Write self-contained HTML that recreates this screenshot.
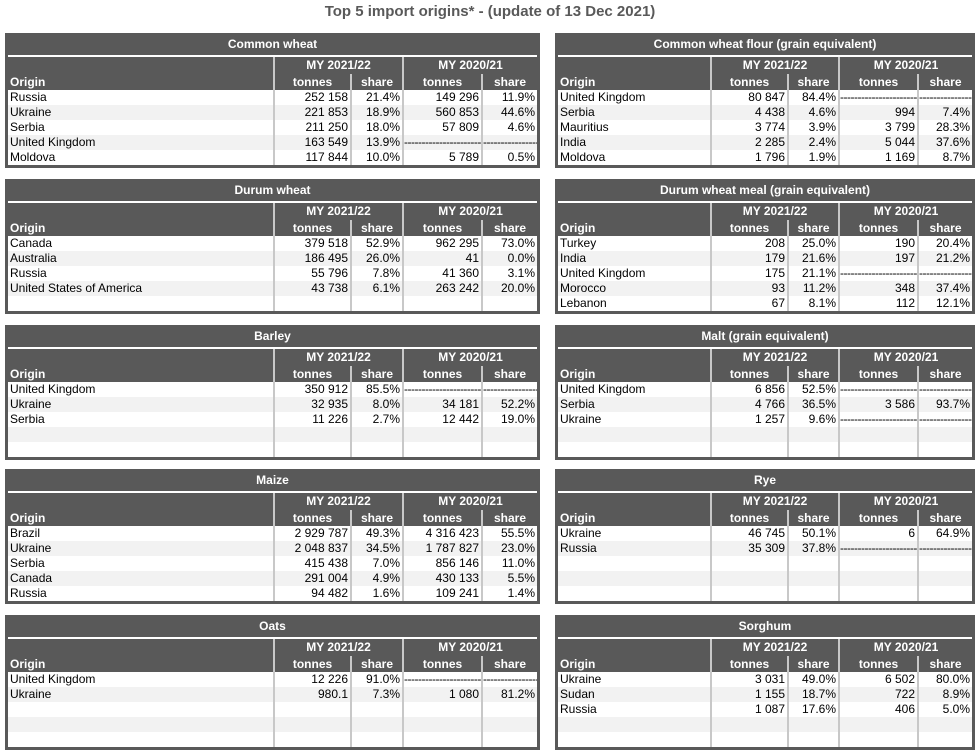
<!DOCTYPE html>
<html><head><meta charset="utf-8"><style>
body{margin:0;width:980px;height:751px;background:#fff;font-family:"Liberation Sans",Arial,sans-serif;position:relative;overflow:hidden}
.h{position:absolute;left:0;width:980px;top:3px;text-align:center;font-weight:bold;font-size:15px;color:#595959}
.p{position:absolute;background:#595959;height:135px;box-sizing:border-box;padding:0 3px}
.ti{height:22px;line-height:23px;color:#fff;font-weight:bold;text-align:center;font-size:12px}
.wl{height:2px;background:#fff}
table{border-spacing:0;table-layout:fixed;font-size:12px;color:#000}
th{color:#fff;font-weight:bold;padding:0;text-align:center;line-height:15px}
th.o{text-align:left;vertical-align:bottom;padding-left:2px}
tr.a th{height:17px}
tr.b th{height:16px}
td{height:15px;padding:0 2px;line-height:15px;background:#fff;text-align:right;white-space:nowrap;overflow:hidden}
td.o{text-align:left}
tr.g td{background:#f2f2f2}
.s{border-left:2px solid #c8c8c8}
.d{text-align:left;padding:0;letter-spacing:-0.5px}
</style></head><body>
<div class="h">Top 5 import origins* - (update of 13 Dec 2021)</div>

<div class="p" style="left:5px;top:33px;width:535px">
<div class="ti">Common wheat</div><div class="wl"></div>
<table style="width:529px"><colgroup><col style="width:265px"><col style="width:77px"><col style="width:52px"><col style="width:79px"><col></colgroup>
<tr class="a"><th class="o" rowspan="2">Origin</th><th class="s" colspan="2">MY 2021/22</th><th class="s" colspan="2">MY 2020/21</th></tr>
<tr class="b"><th class="s">tonnes</th><th class="s">share</th><th class="s">tonnes</th><th class="s">share</th></tr>
<tr><td class="o">Russia</td><td class="s">252 158</td><td class="s">21.4%</td><td class="s">149 296</td><td class="s">11.9%</td></tr>
<tr class="g"><td class="o">Ukraine</td><td class="s">221 853</td><td class="s">18.9%</td><td class="s">560 853</td><td class="s">44.6%</td></tr>
<tr><td class="o">Serbia</td><td class="s">211 250</td><td class="s">18.0%</td><td class="s">57 809</td><td class="s">4.6%</td></tr>
<tr class="g"><td class="o">United Kingdom</td><td class="s">163 549</td><td class="s">13.9%</td><td class="s d">-------------------------</td><td class="s d">----------------</td></tr>
<tr><td class="o">Moldova</td><td class="s">117 844</td><td class="s">10.0%</td><td class="s">5 789</td><td class="s">0.5%</td></tr>
</table></div>

<div class="p" style="left:5px;top:179px;width:535px">
<div class="ti">Durum wheat</div><div class="wl"></div>
<table style="width:529px"><colgroup><col style="width:265px"><col style="width:77px"><col style="width:52px"><col style="width:79px"><col></colgroup>
<tr class="a"><th class="o" rowspan="2">Origin</th><th class="s" colspan="2">MY 2021/22</th><th class="s" colspan="2">MY 2020/21</th></tr>
<tr class="b"><th class="s">tonnes</th><th class="s">share</th><th class="s">tonnes</th><th class="s">share</th></tr>
<tr><td class="o">Canada</td><td class="s">379 518</td><td class="s">52.9%</td><td class="s">962 295</td><td class="s">73.0%</td></tr>
<tr class="g"><td class="o">Australia</td><td class="s">186 495</td><td class="s">26.0%</td><td class="s">41</td><td class="s">0.0%</td></tr>
<tr><td class="o">Russia</td><td class="s">55 796</td><td class="s">7.8%</td><td class="s">41 360</td><td class="s">3.1%</td></tr>
<tr class="g"><td class="o">United States of America</td><td class="s">43 738</td><td class="s">6.1%</td><td class="s">263 242</td><td class="s">20.0%</td></tr>
<tr><td class="o"></td><td class="s"></td><td class="s"></td><td class="s"></td><td class="s"></td></tr>
</table></div>

<div class="p" style="left:5px;top:325px;width:535px">
<div class="ti">Barley</div><div class="wl"></div>
<table style="width:529px"><colgroup><col style="width:265px"><col style="width:77px"><col style="width:52px"><col style="width:79px"><col></colgroup>
<tr class="a"><th class="o" rowspan="2">Origin</th><th class="s" colspan="2">MY 2021/22</th><th class="s" colspan="2">MY 2020/21</th></tr>
<tr class="b"><th class="s">tonnes</th><th class="s">share</th><th class="s">tonnes</th><th class="s">share</th></tr>
<tr><td class="o">United Kingdom</td><td class="s">350 912</td><td class="s">85.5%</td><td class="s d">-------------------------</td><td class="s d">----------------</td></tr>
<tr class="g"><td class="o">Ukraine</td><td class="s">32 935</td><td class="s">8.0%</td><td class="s">34 181</td><td class="s">52.2%</td></tr>
<tr><td class="o">Serbia</td><td class="s">11 226</td><td class="s">2.7%</td><td class="s">12 442</td><td class="s">19.0%</td></tr>
<tr class="g"><td class="o"></td><td class="s"></td><td class="s"></td><td class="s"></td><td class="s"></td></tr>
<tr><td class="o"></td><td class="s"></td><td class="s"></td><td class="s"></td><td class="s"></td></tr>
</table></div>

<div class="p" style="left:5px;top:469px;width:535px">
<div class="ti">Maize</div><div class="wl"></div>
<table style="width:529px"><colgroup><col style="width:265px"><col style="width:77px"><col style="width:52px"><col style="width:79px"><col></colgroup>
<tr class="a"><th class="o" rowspan="2">Origin</th><th class="s" colspan="2">MY 2021/22</th><th class="s" colspan="2">MY 2020/21</th></tr>
<tr class="b"><th class="s">tonnes</th><th class="s">share</th><th class="s">tonnes</th><th class="s">share</th></tr>
<tr><td class="o">Brazil</td><td class="s">2 929 787</td><td class="s">49.3%</td><td class="s">4 316 423</td><td class="s">55.5%</td></tr>
<tr class="g"><td class="o">Ukraine</td><td class="s">2 048 837</td><td class="s">34.5%</td><td class="s">1 787 827</td><td class="s">23.0%</td></tr>
<tr><td class="o">Serbia</td><td class="s">415 438</td><td class="s">7.0%</td><td class="s">856 146</td><td class="s">11.0%</td></tr>
<tr class="g"><td class="o">Canada</td><td class="s">291 004</td><td class="s">4.9%</td><td class="s">430 133</td><td class="s">5.5%</td></tr>
<tr><td class="o">Russia</td><td class="s">94 482</td><td class="s">1.6%</td><td class="s">109 241</td><td class="s">1.4%</td></tr>
</table></div>

<div class="p" style="left:5px;top:615px;width:535px">
<div class="ti">Oats</div><div class="wl"></div>
<table style="width:529px"><colgroup><col style="width:265px"><col style="width:77px"><col style="width:52px"><col style="width:79px"><col></colgroup>
<tr class="a"><th class="o" rowspan="2">Origin</th><th class="s" colspan="2">MY 2021/22</th><th class="s" colspan="2">MY 2020/21</th></tr>
<tr class="b"><th class="s">tonnes</th><th class="s">share</th><th class="s">tonnes</th><th class="s">share</th></tr>
<tr><td class="o">United Kingdom</td><td class="s">12 226</td><td class="s">91.0%</td><td class="s d">-------------------------</td><td class="s d">----------------</td></tr>
<tr class="g"><td class="o">Ukraine</td><td class="s">980.1</td><td class="s">7.3%</td><td class="s">1 080</td><td class="s">81.2%</td></tr>
<tr><td class="o"></td><td class="s"></td><td class="s"></td><td class="s"></td><td class="s"></td></tr>
<tr class="g"><td class="o"></td><td class="s"></td><td class="s"></td><td class="s"></td><td class="s"></td></tr>
<tr><td class="o"></td><td class="s"></td><td class="s"></td><td class="s"></td><td class="s"></td></tr>
</table></div>

<div class="p" style="left:555px;top:33px;width:420px">
<div class="ti">Common wheat flour (grain equivalent)</div><div class="wl"></div>
<table style="width:414px"><colgroup><col style="width:152px"><col style="width:77px"><col style="width:51px"><col style="width:79px"><col></colgroup>
<tr class="a"><th class="o" rowspan="2">Origin</th><th class="s" colspan="2">MY 2021/22</th><th class="s" colspan="2">MY 2020/21</th></tr>
<tr class="b"><th class="s">tonnes</th><th class="s">share</th><th class="s">tonnes</th><th class="s">share</th></tr>
<tr><td class="o">United Kingdom</td><td class="s">80 847</td><td class="s">84.4%</td><td class="s d">-------------------------</td><td class="s d">----------------</td></tr>
<tr class="g"><td class="o">Serbia</td><td class="s">4 438</td><td class="s">4.6%</td><td class="s">994</td><td class="s">7.4%</td></tr>
<tr><td class="o">Mauritius</td><td class="s">3 774</td><td class="s">3.9%</td><td class="s">3 799</td><td class="s">28.3%</td></tr>
<tr class="g"><td class="o">India</td><td class="s">2 285</td><td class="s">2.4%</td><td class="s">5 044</td><td class="s">37.6%</td></tr>
<tr><td class="o">Moldova</td><td class="s">1 796</td><td class="s">1.9%</td><td class="s">1 169</td><td class="s">8.7%</td></tr>
</table></div>

<div class="p" style="left:555px;top:179px;width:420px">
<div class="ti">Durum wheat meal (grain equivalent)</div><div class="wl"></div>
<table style="width:414px"><colgroup><col style="width:152px"><col style="width:77px"><col style="width:51px"><col style="width:79px"><col></colgroup>
<tr class="a"><th class="o" rowspan="2">Origin</th><th class="s" colspan="2">MY 2021/22</th><th class="s" colspan="2">MY 2020/21</th></tr>
<tr class="b"><th class="s">tonnes</th><th class="s">share</th><th class="s">tonnes</th><th class="s">share</th></tr>
<tr><td class="o">Turkey</td><td class="s">208</td><td class="s">25.0%</td><td class="s">190</td><td class="s">20.4%</td></tr>
<tr class="g"><td class="o">India</td><td class="s">179</td><td class="s">21.6%</td><td class="s">197</td><td class="s">21.2%</td></tr>
<tr><td class="o">United Kingdom</td><td class="s">175</td><td class="s">21.1%</td><td class="s d">-------------------------</td><td class="s d">----------------</td></tr>
<tr class="g"><td class="o">Morocco</td><td class="s">93</td><td class="s">11.2%</td><td class="s">348</td><td class="s">37.4%</td></tr>
<tr><td class="o">Lebanon</td><td class="s">67</td><td class="s">8.1%</td><td class="s">112</td><td class="s">12.1%</td></tr>
</table></div>

<div class="p" style="left:555px;top:325px;width:420px">
<div class="ti">Malt (grain equivalent)</div><div class="wl"></div>
<table style="width:414px"><colgroup><col style="width:152px"><col style="width:77px"><col style="width:51px"><col style="width:79px"><col></colgroup>
<tr class="a"><th class="o" rowspan="2">Origin</th><th class="s" colspan="2">MY 2021/22</th><th class="s" colspan="2">MY 2020/21</th></tr>
<tr class="b"><th class="s">tonnes</th><th class="s">share</th><th class="s">tonnes</th><th class="s">share</th></tr>
<tr><td class="o">United Kingdom</td><td class="s">6 856</td><td class="s">52.5%</td><td class="s d">-------------------------</td><td class="s d">----------------</td></tr>
<tr class="g"><td class="o">Serbia</td><td class="s">4 766</td><td class="s">36.5%</td><td class="s">3 586</td><td class="s">93.7%</td></tr>
<tr><td class="o">Ukraine</td><td class="s">1 257</td><td class="s">9.6%</td><td class="s d">-------------------------</td><td class="s d">----------------</td></tr>
<tr class="g"><td class="o"></td><td class="s"></td><td class="s"></td><td class="s"></td><td class="s"></td></tr>
<tr><td class="o"></td><td class="s"></td><td class="s"></td><td class="s"></td><td class="s"></td></tr>
</table></div>

<div class="p" style="left:555px;top:469px;width:420px">
<div class="ti">Rye</div><div class="wl"></div>
<table style="width:414px"><colgroup><col style="width:152px"><col style="width:77px"><col style="width:51px"><col style="width:79px"><col></colgroup>
<tr class="a"><th class="o" rowspan="2">Origin</th><th class="s" colspan="2">MY 2021/22</th><th class="s" colspan="2">MY 2020/21</th></tr>
<tr class="b"><th class="s">tonnes</th><th class="s">share</th><th class="s">tonnes</th><th class="s">share</th></tr>
<tr><td class="o">Ukraine</td><td class="s">46 745</td><td class="s">50.1%</td><td class="s">6</td><td class="s">64.9%</td></tr>
<tr class="g"><td class="o">Russia</td><td class="s">35 309</td><td class="s">37.8%</td><td class="s d">-------------------------</td><td class="s d">----------------</td></tr>
<tr><td class="o"></td><td class="s"></td><td class="s"></td><td class="s"></td><td class="s"></td></tr>
<tr class="g"><td class="o"></td><td class="s"></td><td class="s"></td><td class="s"></td><td class="s"></td></tr>
<tr><td class="o"></td><td class="s"></td><td class="s"></td><td class="s"></td><td class="s"></td></tr>
</table></div>

<div class="p" style="left:555px;top:615px;width:420px">
<div class="ti">Sorghum</div><div class="wl"></div>
<table style="width:414px"><colgroup><col style="width:152px"><col style="width:77px"><col style="width:51px"><col style="width:79px"><col></colgroup>
<tr class="a"><th class="o" rowspan="2">Origin</th><th class="s" colspan="2">MY 2021/22</th><th class="s" colspan="2">MY 2020/21</th></tr>
<tr class="b"><th class="s">tonnes</th><th class="s">share</th><th class="s">tonnes</th><th class="s">share</th></tr>
<tr><td class="o">Ukraine</td><td class="s">3 031</td><td class="s">49.0%</td><td class="s">6 502</td><td class="s">80.0%</td></tr>
<tr class="g"><td class="o">Sudan</td><td class="s">1 155</td><td class="s">18.7%</td><td class="s">722</td><td class="s">8.9%</td></tr>
<tr><td class="o">Russia</td><td class="s">1 087</td><td class="s">17.6%</td><td class="s">406</td><td class="s">5.0%</td></tr>
<tr class="g"><td class="o"></td><td class="s"></td><td class="s"></td><td class="s"></td><td class="s"></td></tr>
<tr><td class="o"></td><td class="s"></td><td class="s"></td><td class="s"></td><td class="s"></td></tr>
</table></div>
</body></html>
